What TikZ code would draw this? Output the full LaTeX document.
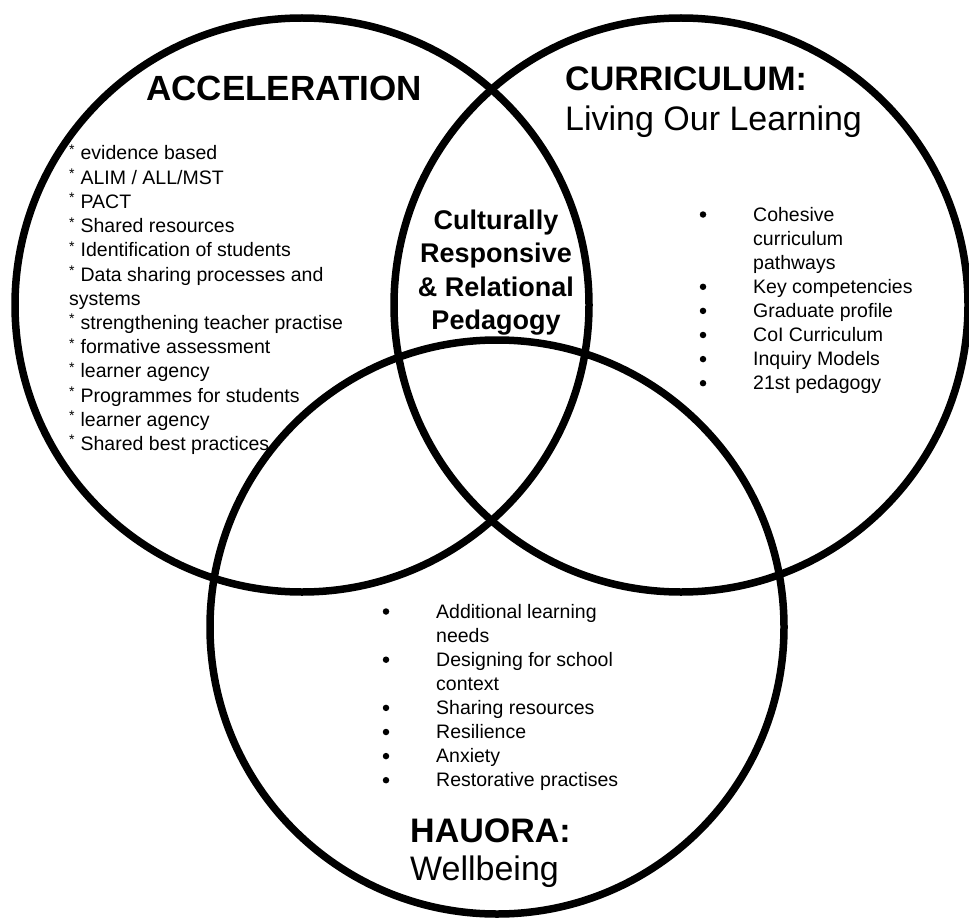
\documentclass[tikz,border=0pt]{standalone}
\usepackage{fontspec}
\setmainfont{Liberation Sans}
\newcommand\myast{\raisebox{5.5pt}{\fontsize{14}{14}\selectfont *}\hspace{6pt}}
\begin{document}
\begin{tikzpicture}[x=1pt,y=-1pt,
  ring/.style={draw=black, line width=7.5pt, circle, minimum size=574pt, inner sep=0pt},
  lbl/.style={inner sep=0pt, anchor=base west, font=\fontsize{19.5}{24}\selectfont},
  bul/.style={circle, fill=black, inner sep=0pt, minimum size=6.5pt},
  headb/.style={inner sep=0pt, anchor=base west, font=\fontsize{34}{40}\selectfont\bfseries},
  headr/.style={inner sep=0pt, anchor=base west, font=\fontsize{34}{40}\selectfont},
  mid/.style={inner sep=0pt, anchor=base, font=\fontsize{27}{33}\selectfont\bfseries}]
\useasboundingbox (0,0) rectangle (969,923);
% circles
\node[ring] (acc) at (302,305) {};
\node[ring] (cur) at (681,305) {};
\node[ring] (hau) at (497,627) {};
% headings
\node[inner sep=0pt, anchor=base, font=\fontsize{35}{40}\selectfont\bfseries] (acctitle) at (284,101) {ACCELERATION};
\node[headb] (curtitle) at (565,91) {CURRICULUM:};
\node[headr] (cursub) at (565,131) {Living Our Learning};
\node[headb] (hautitle) at (410,842) {HAUORA:};
\node[headr] (hausub) at (410,880) {Wellbeing};
% centre
\foreach \t [count=\i from 0] in {Culturally, Responsive, \& Relational, Pedagogy}
  \node[mid] (ctr\i) at (496,229.5+33.4*\i) {\t};
% acceleration list
\foreach \t [count=\i from 0] in {{\myast evidence based}, {\myast ALIM / ALL/MST}, {\myast PACT}, {\myast Shared resources},
  {\myast Identification of students}, {\myast Data sharing processes and}, {systems},
  {\myast strengthening teacher practise}, {\myast formative assessment}, {\myast learner agency},
  {\myast Programmes for students}, {\myast learner agency}, {\myast Shared best practices}}
  \node[lbl] (accl\i) at (69,160+24.2*\i) {\t};
% curriculum list
\foreach \t/\b [count=\i from 0] in {Cohesive/1, curriculum/0, pathways/0, Key competencies/1,
  Graduate profile/1, CoI Curriculum/1, Inquiry Models/1, 21st pedagogy/1}{
  \node[lbl] (curl\i) at (753,221+24.1*\i) {\t};
  \ifnum\b=1 \node[bul] (curb\i) at (703,214.5+24.1*\i) {}; \fi
}
% hauora list
\foreach \t/\b [count=\i from 0] in {Additional learning/1, needs/0, Designing for school/1, context/0,
  Sharing resources/1, Resilience/1, Anxiety/1, Restorative practises/1}{
  \node[lbl] (haul\i) at (436,618+24.1*\i) {\t};
  \ifnum\b=1 \node[bul] (haub\i) at (386,611.5+24.1*\i) {}; \fi
}
\end{tikzpicture}
\end{document}
